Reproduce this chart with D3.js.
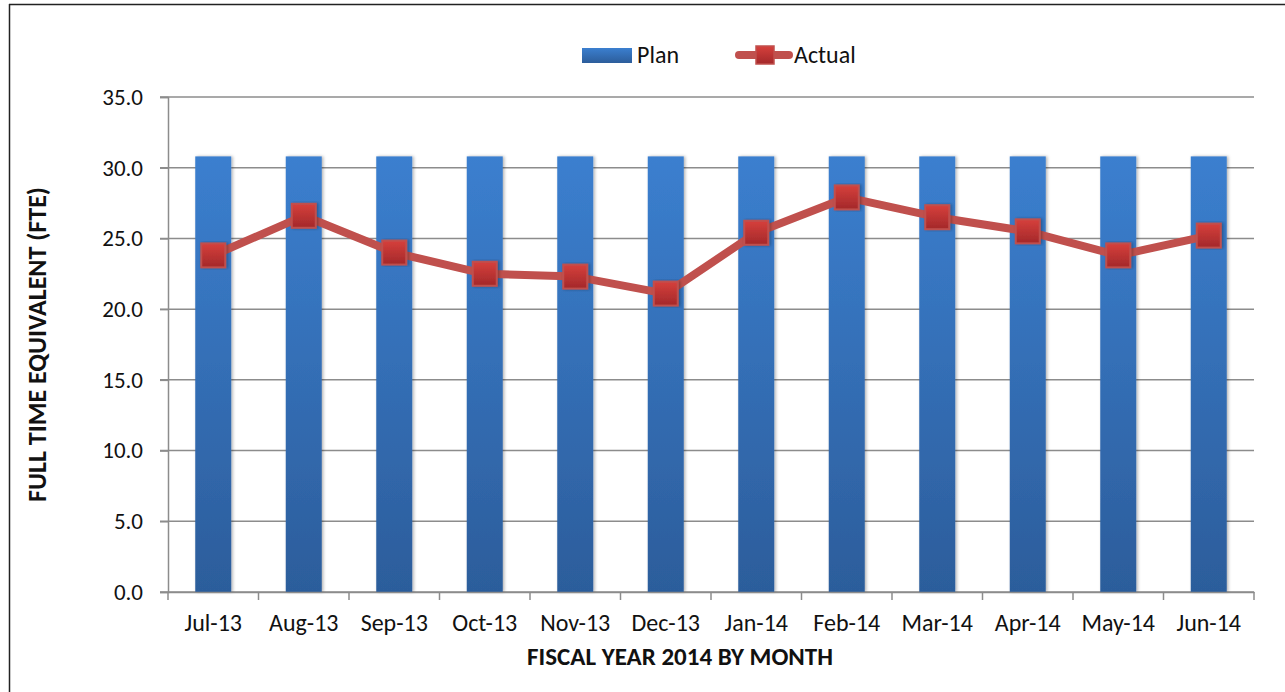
<!DOCTYPE html>
<html>
<head>
<meta charset="utf-8">
<script src="https://d3js.org/d3.v7.min.js"></script>
<style>
  body { margin: 0; background: #fff; }
  svg { display: block; font-family: Carlito, Lato, "Open Sans", sans-serif; }
</style>
</head>
<body>
<div id="chart"></div>
<script>
var months = ["Jul-13", "Aug-13", "Sep-13", "Oct-13", "Nov-13", "Dec-13",
              "Jan-14", "Feb-14", "Mar-14", "Apr-14", "May-14", "Jun-14"];
var plan = [30.8, 30.8, 30.8, 30.8, 30.8, 30.8, 30.8, 30.8, 30.8, 30.8, 30.8, 30.8];
var actual = [23.8, 26.6, 24.0, 22.5, 22.3, 21.1, 25.4, 27.9, 26.5, 25.5, 23.8, 25.2];
var yTicks = [0, 5, 10, 15, 20, 25, 30, 35];

var W = 1285, H = 692;
var m = {left: 168, right: 31, top: 97, bottom: 100};

var svg = d3.select("#chart").append("svg")
    .attr("width", W).attr("height", H);

var defs = svg.append("defs");
var bg = defs.append("linearGradient").attr("id", "barGrad")
    .attr("x1", 0).attr("y1", 0).attr("x2", 0).attr("y2", 1);
bg.append("stop").attr("offset", "0%").attr("stop-color", "#3b7fcf");
bg.append("stop").attr("offset", "100%").attr("stop-color", "#2c5d9b");

var mg = defs.append("linearGradient").attr("id", "mkGrad")
    .attr("x1", 0).attr("y1", 0).attr("x2", 0).attr("y2", 1);
mg.append("stop").attr("offset", "0%").attr("stop-color", "#d6403c");
mg.append("stop").attr("offset", "100%").attr("stop-color", "#a3282a");

var sh = defs.append("filter").attr("id", "shadow")
    .attr("x", "-30%").attr("y", "-10%").attr("width", "160%").attr("height", "120%");
sh.append("feDropShadow").attr("dx", 1.5).attr("dy", 0).attr("stdDeviation", 1.5)
    .attr("flood-color", "#000").attr("flood-opacity", 0.3);

// frame
svg.append("line").attr("x1", 9).attr("x2", W).attr("y1", 4.5).attr("y2", 4.5)
    .attr("stroke", "#222").attr("stroke-width", 1.5);
svg.append("line").attr("x1", 9.5).attr("x2", 9.5).attr("y1", 4).attr("y2", H)
    .attr("stroke", "#222").attr("stroke-width", 1.5);

var x = d3.scaleBand().domain(months).range([m.left, W - m.right]);
var y = d3.scaleLinear().domain([0, 35]).range([H - m.bottom, m.top]);

// gridlines
svg.append("g").selectAll("line").data(yTicks).join("line")
    .attr("x1", m.left - 8).attr("x2", W - m.right)
    .attr("y1", function(d){ return y(d); }).attr("y2", function(d){ return y(d); })
    .attr("stroke", "#8c8c8c").attr("stroke-width", 1.5);

// y axis
var yAxis = svg.append("g").attr("transform", "translate(" + m.left + ",0)")
    .call(d3.axisLeft(y).tickValues(yTicks).tickFormat(d3.format(".1f")).tickSize(8).tickPadding(17));
yAxis.select(".domain").attr("stroke", "#8c8c8c").attr("stroke-width", 1.5);
yAxis.selectAll(".tick line").attr("stroke", "#8c8c8c").attr("stroke-width", 1.5);
yAxis.selectAll("text").attr("font-size", 23).attr("fill", "#111")
    .attr("font-family", "Carlito, Lato, 'Open Sans', sans-serif");

// bars
var barW = 36;
svg.append("g").selectAll("rect").data(months).join("rect")
    .attr("x", function(d){ return x(d) + x.bandwidth() / 2 - barW / 2; })
    .attr("width", barW)
    .attr("y", function(d, i){ return y(plan[i]); })
    .attr("height", function(d, i){ return y(0) - y(plan[i]); })
    .attr("fill", "url(#barGrad)")
    .attr("filter", "url(#shadow)");

// x axis
var xAxis = svg.append("g").attr("transform", "translate(0," + y(0) + ")")
    .call(d3.axisBottom(x).tickSize(0).tickPadding(22));
xAxis.select(".domain").attr("stroke", "#8c8c8c").attr("stroke-width", 1.5);
xAxis.selectAll("text").attr("font-size", 24).attr("fill", "#111")
    .attr("font-family", "Carlito, Lato, 'Open Sans', sans-serif");
svg.append("g").selectAll("line").data(d3.range(months.length + 1)).join("line")
    .attr("x1", function(i){ return m.left + i * x.step(); })
    .attr("x2", function(i){ return m.left + i * x.step(); })
    .attr("y1", y(0)).attr("y2", y(0) + 8)
    .attr("stroke", "#8c8c8c").attr("stroke-width", 1.5);

// actual line
var line = d3.line()
    .x(function(d, i){ return x(months[i]) + x.bandwidth() / 2; })
    .y(function(d){ return y(d); });
svg.append("path").datum(actual).attr("d", line)
    .attr("fill", "none").attr("stroke", "#c0504d").attr("stroke-width", 8)
    .attr("stroke-linejoin", "round");

var mk = 24;
svg.append("g").selectAll("rect").data(actual).join("rect")
    .attr("x", function(d, i){ return x(months[i]) + x.bandwidth() / 2 - mk / 2; })
    .attr("y", function(d){ return y(d) - mk / 2; })
    .attr("width", mk).attr("height", mk)
    .attr("fill", "url(#mkGrad)").attr("stroke", "#c0504d").attr("stroke-width", 2)
    .attr("filter", "url(#shadow)");

// axis titles
svg.append("text").attr("x", m.left + (W - m.right - m.left) / 2 - 31).attr("y", 665)
    .attr("text-anchor", "middle").attr("font-size", 25).attr("font-weight", "bold")
    .attr("fill", "#111").text("FISCAL YEAR 2014 BY MONTH");
svg.append("text").attr("transform", "translate(37," + (y(17.5)) + ") rotate(-90)")
    .attr("text-anchor", "middle").attr("dy", "0.35em").attr("font-size", 26)
    .attr("font-weight", "bold").attr("fill", "#111").text("FULL TIME EQUIVALENT (FTE)");

// legend
var lg = svg.append("g");
lg.append("rect").attr("x", 582).attr("y", 48).attr("width", 50).attr("height", 15)
    .attr("fill", "url(#barGrad)");
lg.append("text").attr("x", 637).attr("y", 55).attr("dy", "0.35em")
    .attr("font-size", 24).attr("fill", "#111").text("Plan");
lg.append("line").attr("x1", 739).attr("x2", 789).attr("y1", 55).attr("y2", 55)
    .attr("stroke", "#c0504d").attr("stroke-width", 8).attr("stroke-linecap", "round");
lg.append("rect").attr("x", 756).attr("y", 46).attr("width", 18).attr("height", 18)
    .attr("fill", "url(#mkGrad)").attr("stroke", "#c0504d").attr("stroke-width", 1.5);
lg.append("text").attr("x", 794).attr("y", 55).attr("dy", "0.35em")
    .attr("font-size", 24).attr("fill", "#111").text("Actual");
</script>
</body>
</html>
